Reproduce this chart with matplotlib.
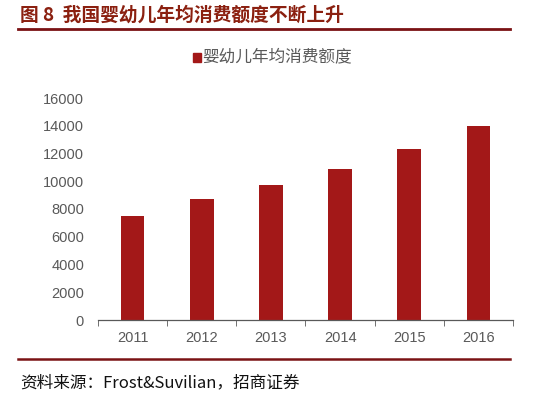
import numpy as np
import matplotlib.pyplot as plt
from matplotlib.lines import Line2D
from matplotlib.patches import Rectangle

plt.rcParams['font.family'] = ['Noto Sans CJK SC', 'DejaVu Sans']

years = ['2011', '2012', '2013', '2014', '2015', '2016']
spend = [7500, 8750, 9700, 10900, 12300, 14000]
yticks = [0, 2000, 4000, 6000, 8000, 10000, 12000, 14000, 16000]

bar_color = '#A31818'
dark_red = '#7A1214'
gray = '#595959'

W, H = 554, 401
fig = plt.figure(figsize=(W / 100, H / 100), dpi=100)

# plot area in pixel coordinates
x0, x1 = 98, 513
y0, y1 = 320, 98
ax = fig.add_axes([x0 / W, 1 - y0 / H, (x1 - x0) / W, (y0 - y1) / H])

x = np.arange(len(years))
ax.bar(x, spend, width=0.34, color=bar_color, zorder=2)
ax.set_xlim(-0.5, len(years) - 0.5)
ax.set_ylim(0, 16000)
ax.set_yticks(yticks)
ax.set_yticklabels([str(v) for v in yticks], fontsize=10.5, color=gray,
                   family=['Liberation Sans'])
ax.tick_params(axis='y', length=0, pad=10)

ax.set_xticks(x)
ax.set_xticklabels(years, fontsize=10.5, color=gray, family=['Liberation Sans'])
ax.tick_params(axis='x', length=0, pad=8)
# category boundary ticks
ax.set_xticks(np.arange(-0.5, len(years)), minor=True)
ax.tick_params(axis='x', which='minor', length=4, direction='out', color=gray)

for s in ['top', 'right', 'left']:
    ax.spines[s].set_visible(False)
ax.spines['bottom'].set_color(gray)
ax.spines['bottom'].set_linewidth(0.9)

# legend
fig.patches.append(Rectangle((193 / W, 1 - 62 / H), 8 / W, 9 / H,
                             transform=fig.transFigure, color=bar_color))
fig.text(202 / W, 1 - 57 / H, '婴幼儿年均消费额度', fontsize=12, color=gray,
         va='center', ha='left')

# title and frame lines
fig.text(20 / W, 1 - 15 / H, '图 8  我国婴幼儿年均消费额度不断上升', fontsize=13.5,
         color='#8B2010', fontweight='bold', va='center', ha='left')
fig.lines.append(Line2D([18 / W, 510 / W], [1 - 29 / H, 1 - 29 / H],
                        transform=fig.transFigure, color=dark_red, lw=2))
fig.lines.append(Line2D([18 / W, 510 / W], [1 - 359 / H, 1 - 359 / H],
                        transform=fig.transFigure, color=dark_red, lw=1.8))
fig.text(20 / W, 1 - 383 / H, '资料来源：Frost&Suvilian，招商证券', fontsize=12,
         color='#111111', va='center', ha='left')

fig.savefig('out.png', dpi=100)
